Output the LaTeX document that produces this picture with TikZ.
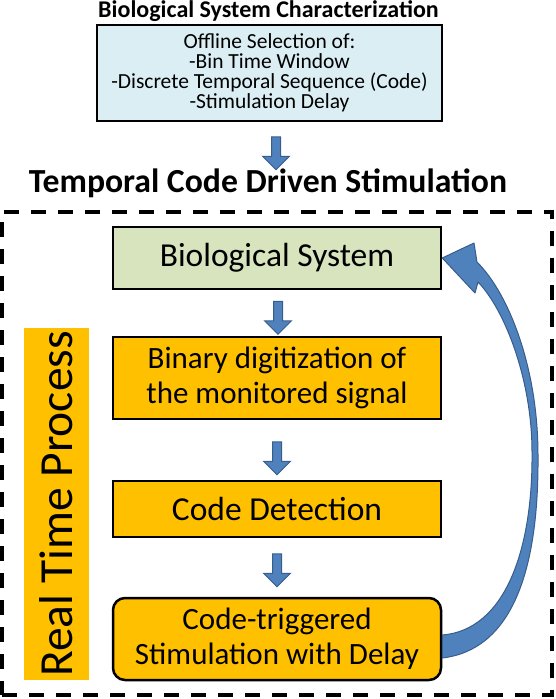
\documentclass[tikz,border=0pt]{standalone}
\usepackage{fontspec}
\setmainfont{Carlito}
\usetikzlibrary{shapes.arrows,calc}
\definecolor{boxblue}{HTML}{DBEEF4}
\definecolor{boxgreen}{HTML}{D7E4BD}
\definecolor{boxorange}{HTML}{FFC000}
\definecolor{arrfill}{HTML}{4F81BD}
\definecolor{arrline}{HTML}{385D8A}
\tikzset{
  procbox/.style={draw=black, line width=2.5pt, inner sep=0pt, align=center, minimum width=328pt, font=\fontsize{31}{35}\selectfont},
  bigtext/.style={font=\fontsize{33.5}{36}\selectfont},
  downarrow/.style={single arrow, shape border rotate=270, fill=arrfill, draw=arrline, line width=1pt, minimum height=33pt, minimum width=26pt, single arrow head extend=9pt, inner sep=4pt},
  titletext/.style={font=\bfseries\fontsize{#1}{#1}\selectfont, inner sep=0pt},
  frame/.style={draw=black, line width=4pt, dash pattern=on 15pt off 12pt, inner sep=0pt}
}
\begin{document}
\begin{tikzpicture}[x=1pt,y=-1pt]
\useasboundingbox (0,0) rectangle (555,699);
\node[titletext=24] (t1) at (268.5,11) {Biological System Characterization};
\node[draw=black, line width=2.5pt, fill=boxblue, inner sep=0pt, minimum width=345pt, minimum height=96pt, align=center, font=\fontsize{21.5}{20}\selectfont] (off) at (269.5,73) {Offline Selection of:\\-Bin Time Window\\-Discrete Temporal Sequence (Code)\\-Stimulation Delay};
\node[titletext=33.7] (t2) at (268,183) {Temporal Code Driven Stimulation};
\node[frame, minimum width=550pt, minimum height=483pt] (fr) at (277,453.5) {};
\node[procbox, bigtext, fill=boxgreen, minimum height=62pt] (bio) at (277,258) {Biological System};
\node[procbox, fill=boxorange, minimum height=82pt] (bin) at (277,378) {Binary digitization of\\the monitored signal};
\node[procbox, bigtext, fill=boxorange, minimum height=56pt] (code) at (277,509) {Code Detection};
\node[procbox, fill=boxorange, minimum height=82pt, rounded corners=12pt] (trig) at (277,639) {Code-triggered\\Stimulation with Delay};
\node[fill=boxorange, minimum width=65pt, minimum height=352pt, inner sep=0pt] (lab) at (56.5,504) {};
\node[rotate=90, inner sep=0pt, font=\fontsize{47.5}{48}\selectfont] (labt) at (lab.center) {Real Time Process};
\node[downarrow] (a1) at (276,151) {};
\node[downarrow] (a2) at (278,315.5) {};
\node[downarrow] (a3) at (277,456) {};
\node[downarrow] (a4) at (277,568) {};
\fill[arrfill, draw=arrline, line width=1pt, line join=round]
  (bio.east) -- (474,243) -- (477,262)
  .. controls (510,295) and (538,370) .. (538,455)
  .. controls (539,575) and (510,650) .. ($(trig.east)+(0,19)$)
  -- ($(trig.east)+(0,-4)$)
  .. controls (505,630) and (533,550) .. (532,452)
  .. controls (532,380) and (505,310) .. (478,282)
  -- (475,293) -- cycle;
\end{tikzpicture}
\end{document}
